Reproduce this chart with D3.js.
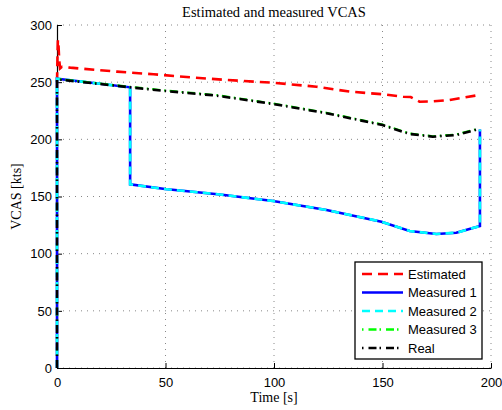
<!DOCTYPE html>
<html>
<head>
<meta charset="utf-8">
<script src="https://cdn.jsdelivr.net/npm/d3@7"></script>
<style>
  body { margin: 0; background: #fff; }
  svg { display: block; }
</style>
</head>
<body>
<div id="chart-container"></div>
<script>
// Estimated VCAS [time, kts]
const estimated = [
  [0, 250], [0.2, 270], [0.4, 287], [0.7, 282], [1.0, 270], [1.4, 262], [2.3, 263.5],
  [6.1, 262.7], [27.6, 259.2], [44.5, 256.9], [61.5, 254.2], [78.3, 251.9],
  [99.6, 249.5], [119.6, 246], [135, 241.7], [150.3, 239.4], [159.5, 237.3],
  [163, 237], [167.1, 232.9], [173.2, 233.2], [180.8, 234.4], [194.6, 238.8]
];

// Measured 1 and Measured 2 (same sensor path)
const measured1 = [
  [0, 0], [0, 253], [33.7, 245.5], [33.7, 160.6], [49.8, 156.5], [75.1, 151.8],
  [99.6, 146], [124.2, 138.2], [149.5, 128], [162.5, 119.8], [174.8, 117.2],
  [184, 118.3], [194.9, 124.2], [194.9, 208.5]
];
const measured2 = [
  [0, 0], [0, 253], [33.7, 245.5], [33.7, 160.6], [49.8, 156.5], [75.1, 151.8],
  [99.6, 146], [124.2, 138.2], [149.5, 128], [162.5, 119.8], [174.8, 117.2],
  [184, 118.3], [194.9, 124.2], [194.9, 208.5]
];

// Measured 3 and Real
const measured3 = [
  [0, 0], [0, 253], [33.7, 246], [49.8, 242.8], [73.6, 238.7], [99.6, 231.4],
  [124.2, 223.3], [150, 213], [162.5, 205.2], [173.2, 202.8], [184, 204.3], [194, 209.3]
];
const real = [
  [0, 0], [0, 252.5], [33.7, 245.5], [49.8, 242.3], [73.6, 238.2], [99.6, 230.9],
  [124.2, 222.8], [150, 212.5], [162.5, 204.7], [173.2, 202.3], [184, 203.8], [194, 208.8]
];

const xTicks = [0, 50, 100, 150, 200];
const yTicks = [0, 50, 100, 150, 200, 250, 300];

const series = [
  { name: 'Estimated', data: estimated, color: '#ff0000', dash: '10,6' },
  { name: 'Measured 1', data: measured1, color: '#0000ff', dash: null },
  { name: 'Measured 2', data: measured2, color: '#00ffff', dash: '8,5' },
  { name: 'Measured 3', data: measured3, color: '#00dd00', dash: '8,4,1.5,4' },
  { name: 'Real', data: real, color: '#000000', dash: '8,4,1.5,4' }
];

const width = 502, height = 410;
const margin = { top: 25, right: 11, bottom: 42, left: 57 };
const w = width - margin.left - margin.right;
const h = height - margin.top - margin.bottom;

const svg = d3.select('#chart-container')
  .append('svg')
  .attr('width', width)
  .attr('height', height);

const g = svg.append('g')
  .attr('transform', `translate(${margin.left}, ${margin.top})`);

const xScale = d3.scaleLinear().domain([0, 200]).range([0, w]);
const yScale = d3.scaleLinear().domain([0, 300]).range([h, 0]);

// grid
g.append('g')
  .selectAll('line')
  .data(xTicks.slice(1))
  .enter()
  .append('line')
  .attr('x1', d => xScale(d)).attr('x2', d => xScale(d))
  .attr('y1', 0).attr('y2', h)
  .attr('stroke', '#888')
  .attr('stroke-dasharray', '1,5');

g.append('g')
  .selectAll('line')
  .data(yTicks)
  .enter()
  .append('line')
  .attr('x1', 0).attr('x2', w)
  .attr('y1', d => yScale(d)).attr('y2', d => yScale(d))
  .attr('stroke', '#888')
  .attr('stroke-dasharray', '1,5');

// axes
const xAxis = g.append('g')
  .attr('transform', `translate(0, ${h})`)
  .call(d3.axisBottom(xScale).tickValues(xTicks).tickSizeInner(-5).tickSizeOuter(0).tickPadding(10));

const yAxis = g.append('g')
  .call(d3.axisLeft(yScale).tickValues(yTicks).tickSizeInner(-5).tickSizeOuter(0).tickPadding(5));

[xAxis, yAxis].forEach(a => {
  a.select('.domain').attr('stroke', '#000').attr('stroke-width', 1.2);
  a.selectAll('.tick line').attr('stroke', '#000');
  a.selectAll('.tick text')
    .attr('fill', '#000')
    .style('font-family', 'Liberation Sans, Arial, sans-serif')
    .style('font-size', '13px');
});

// lines
const line = d3.line()
  .x(d => xScale(d[0]))
  .y(d => yScale(d[1]));

series.forEach(s => {
  g.append('path')
    .datum(s.data)
    .attr('fill', 'none')
    .attr('stroke', s.color)
    .attr('stroke-width', s.name === 'Measured 3' ? 2 : 2.6)
    .attr('stroke-dasharray', s.dash)
    .attr('d', line);
});

// title and labels
svg.append('text')
  .attr('x', margin.left + w / 2)
  .attr('y', 17)
  .attr('text-anchor', 'middle')
  .style('font-family', 'Liberation Serif, Times New Roman, serif')
  .style('font-size', '14.5px')
  .text('Estimated and measured VCAS');

svg.append('text')
  .attr('x', margin.left + w / 2)
  .attr('y', 402)
  .attr('text-anchor', 'middle')
  .style('font-family', 'Liberation Serif, Times New Roman, serif')
  .style('font-size', '14px')
  .text('Time [s]');

svg.append('text')
  .attr('transform', `translate(21, ${margin.top + h / 2}) rotate(-90)`)
  .attr('text-anchor', 'middle')
  .style('font-family', 'Liberation Serif, Times New Roman, serif')
  .style('font-size', '14px')
  .text('VCAS [kts]');

// legend
const legend = svg.append('g').attr('transform', 'translate(355, 262)');
legend.append('rect')
  .attr('width', 127).attr('height', 97)
  .attr('fill', '#fff')
  .attr('stroke', '#000')
  .attr('stroke-width', 1.3);

series.forEach((s, i) => {
  const y = 12 + i * 18.5;
  legend.append('line')
    .attr('x1', 7).attr('x2', 48)
    .attr('y1', y).attr('y2', y)
    .attr('stroke', s.name === 'Measured 3' ? '#00ff00' : s.color)
    .attr('stroke-width', 2.6)
    .attr('stroke-dasharray', s.dash ? (s.dash.split(',').length > 2 ? '1.5,5,8,3' : s.dash) : null);
  legend.append('text')
    .attr('x', 53)
    .attr('y', y + 4.5)
    .style('font-family', 'Liberation Sans, Arial, sans-serif')
    .style('font-size', '13px')
    .text(s.name);
});
</script>
</body>
</html>
